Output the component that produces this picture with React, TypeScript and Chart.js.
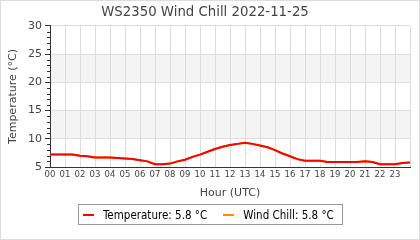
import React, { useEffect, useRef } from "react";
import { Chart, registerables } from "chart.js";

Chart.register(...registerables);

const TITLE = "WS2350 Wind Chill 2022-11-25";
const hours = [
  0, 0.5, 1, 1.5, 2, 2.5, 3, 3.5, 4, 4.5, 5, 5.5, 6, 6.5, 7, 7.5, 8, 8.5, 9, 9.5,
  10, 10.5, 11, 11.5, 12, 12.5, 13, 13.5, 14, 14.5, 15, 15.5, 16, 16.5, 17, 17.5,
  18, 18.5, 19, 19.5, 20, 20.5, 21, 21.5, 22, 22.5, 23, 23.5, 24,
];
const temperature = [
  7.2, 7.2, 7.2, 7.2, 7.0, 6.9, 6.7, 6.7, 6.7, 6.6, 6.5, 6.4, 6.2, 6.0, 5.5, 5.5,
  5.6, 6.0, 6.3, 6.8, 7.2, 7.7, 8.2, 8.6, 8.9, 9.1, 9.3, 9.1, 8.8, 8.5, 8.0, 7.4,
  6.9, 6.4, 6.1, 6.1, 6.1, 5.9, 5.9, 5.9, 5.9, 5.9, 6.0, 5.9, 5.5, 5.5, 5.5, 5.7,
  5.8,
];
const windChill = [
  7.2, 7.2, 7.2, 7.2, 7.0, 6.9, 6.7, 6.7, 6.7, 6.6, 6.5, 6.4, 6.2, 6.0, 5.5, 5.5,
  5.6, 6.0, 6.3, 6.8, 7.2, 7.7, 8.2, 8.6, 8.9, 9.1, 9.3, 9.1, 8.8, 8.5, 8.0, 7.4,
  6.9, 6.4, 6.1, 6.1, 6.1, 5.9, 5.9, 5.9, 5.9, 5.9, 6.0, 5.9, 5.5, 5.5, 5.5, 5.7,
  5.8,
];
const bands = [
  [10, 15],
  [20, 25],
];
const Y_MIN = 5;
const Y_MAX = 30;

const FONT = "'DejaVu Sans', sans-serif";
const LEGEND_FONT = "'DejaVu Sans Condensed', 'DejaVu Sans', sans-serif";

const bandPlugin = {
  id: "bands",
  beforeDraw(chart: any) {
    const { ctx, chartArea, scales } = chart;
    const y = scales.y;
    ctx.save();
    ctx.fillStyle = "#f4f4f4";
    for (const [a, b] of bands) {
      const y1 = y.getPixelForValue(b);
      const y2 = y.getPixelForValue(a);
      ctx.fillRect(chartArea.left, y1, chartArea.right - chartArea.left, y2 - y1);
    }
    ctx.restore();
  },
  afterDraw(chart: any) {
    const { ctx, chartArea, scales } = chart;
    const y = scales.y;
    ctx.save();
    ctx.strokeStyle = "#333";
    ctx.lineWidth = 1;
    ctx.beginPath();
    for (let v = Y_MIN + 1; v < Y_MAX; v++) {
      if (v % 5 === 0) continue;
      const py = Math.round(y.getPixelForValue(v)) + 0.5;
      ctx.moveTo(chartArea.left - 3, py);
      ctx.lineTo(chartArea.left, py);
    }
    ctx.stroke();
    ctx.restore();
  },
};

export default function App() {
  const ref = useRef<HTMLCanvasElement>(null);
  useEffect(() => {
    if (!ref.current) return;
    Chart.defaults.font.family = FONT;
    const chart = new Chart(ref.current, {
      type: "line",
      data: {
        datasets: [
          {
            label: "Wind Chill",
            data: hours.map((h, i) => ({ x: h, y: windChill[i] })),
            borderColor: "#ff8c00",
            borderWidth: 2,
            pointRadius: 0,
            tension: 0,
            order: 2,
          },
          {
            label: "Temperature",
            data: hours.map((h, i) => ({ x: h, y: temperature[i] })),
            borderColor: "#ff0000",
            borderWidth: 2,
            pointRadius: 0,
            tension: 0,
            order: 1,
          },
        ],
      },
      options: {
        responsive: false,
        animation: false,
        layout: { padding: { top: 0, right: 10, bottom: 40, left: 0 } },
        plugins: {
          legend: { display: false },
          tooltip: { enabled: false },
          title: {
            display: true,
            text: TITLE,
            color: "#444",
            font: { size: 13.3, weight: "normal", family: FONT },
            padding: { top: 5, bottom: 5 },
          },
        },
        scales: {
          x: {
            type: "linear",
            min: 0,
            max: 24,
            afterFit: (s: any) => {
              s.height = 33;
            },
            ticks: {
              stepSize: 1,
              autoSkip: false,
              maxRotation: 0,
              padding: 3,
              color: "#444",
              font: { size: 8.5, family: FONT },
              callback: (v: any) => (v < 24 ? String(v).padStart(2, "0") : ""),
            },
            grid: { color: "#dddddd", drawTicks: false },
            border: { color: "#333" },
            title: {
              display: true,
              text: "Hour (UTC)",
              color: "#444",
              font: { size: 11, family: FONT },
              padding: { top: 2, bottom: 0 },
            },
          },
          y: {
            min: Y_MIN,
            max: Y_MAX,
            afterFit: (s: any) => {
              s.width = 50;
            },
            ticks: {
              stepSize: 5,
              padding: 3,
              color: "#444",
              font: { size: 11, family: FONT },
            },
            grid: { color: "#dddddd", tickLength: 5, tickColor: "#333" },
            border: { color: "#333" },
            title: {
              display: true,
              text: "Temperature (°C)",
              color: "#444",
              font: { size: 11, family: FONT },
              padding: { top: 7, bottom: 0 },
            },
          },
        },
      },
      plugins: [bandPlugin],
    });
    return () => chart.destroy();
  }, []);

  const last = temperature[temperature.length - 1].toFixed(1);
  const lastWc = windChill[windChill.length - 1].toFixed(1);

  const sample = (color: string, ml: number) => (
    <span
      style={{
        display: "block",
        flex: "0 0 11px",
        width: 11,
        height: 2,
        background: color,
        marginLeft: ml,
      }}
    />
  );

  return (
    <div
      style={{
        position: "fixed",
        left: 0,
        top: 0,
        width: 420,
        height: 240,
        background: "#fff",
        fontFamily: FONT,
      }}
    >
      <canvas ref={ref} width={420} height={240} style={{ position: "absolute", left: 0, top: 0 }} />
      <div
        style={{
          position: "absolute",
          left: 0,
          top: 0,
          width: 420,
          height: 240,
          boxSizing: "border-box",
          border: "1px solid #dddddd",
          pointerEvents: "none",
        }}
      />
      <div
        style={{
          position: "absolute",
          left: 78,
          top: 204,
          width: 265,
          height: 21,
          boxSizing: "border-box",
          border: "1px solid #999",
          display: "flex",
          alignItems: "center",
          fontSize: 11.5,
          fontFamily: LEGEND_FONT,
          color: "#000",
          whiteSpace: "nowrap",
        }}
      >
        {sample("#ff0000", 4)}
        <span style={{ marginLeft: 9 }}>Temperature: {last} °C</span>
        {sample("#ff8c00", 16)}
        <span style={{ marginLeft: 9 }}>Wind Chill: {lastWc} °C</span>
      </div>
    </div>
  );
}
